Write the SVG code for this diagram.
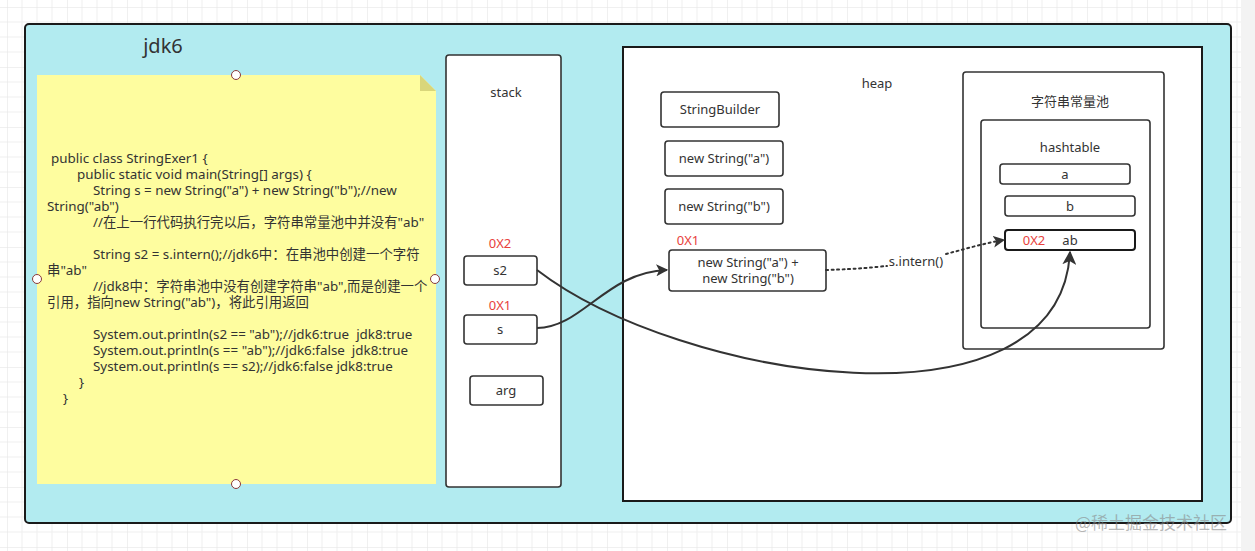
<svg xmlns="http://www.w3.org/2000/svg" width="1255" height="551" viewBox="0 0 1255 551">
<defs>
<pattern id="grid" x="7" y="7" width="60" height="60" patternUnits="userSpaceOnUse">
<path d="M15 0V60M30 0V60M45 0V60M0 15H60M0 30H60M0 45H60" stroke="#efefef" stroke-width="1" fill="none"/>
<path d="M0 0V60M0 0H60" stroke="#e2e2e2" stroke-width="1" fill="none"/>
</pattern>
<marker id="arr" viewBox="0 0 10 10" refX="9" refY="5" markerWidth="12" markerHeight="12" markerUnits="userSpaceOnUse" orient="auto">
<path d="M0 0L10 5L0 10L2.5 5Z" fill="#333"/>
</marker>
<marker id="arr2" viewBox="0 0 10 10" refX="9" refY="5" markerWidth="14" markerHeight="14" markerUnits="userSpaceOnUse" orient="auto">
<path d="M0 0L10 5L0 10L2.5 5Z" fill="#333"/>
</marker>
</defs>
<style>
.t{font-family:"Noto Sans","Noto Sans CJK SC",sans-serif;fill:#333;font-size:13px}
.c{text-anchor:middle}
.red{fill:#e8413c;font-size:13px}
.box{fill:#fff;stroke:#333;stroke-width:1.6}
.code{font-family:"Noto Sans","Noto Sans CJK SC",sans-serif;fill:#333;font-size:13.4px;white-space:pre}
.h{fill:#fff;stroke:#8a3a3a;stroke-width:1}
.edge{fill:none;stroke:#333;stroke-width:2}
</style>
<rect width="1255" height="551" fill="#fff"/>
<rect width="1255" height="551" fill="url(#grid)"/>
<rect x="1241" y="0" width="14" height="551" fill="#f3f3f3"/>

<g id="jdk6">
<rect x="25" y="24" width="1206" height="499" rx="4" fill="#b2ebf0" stroke="#1a1a1a" stroke-width="2"/>
<text class="t c" x="163" y="53" style="font-size:20px">jdk6</text>
</g>

<g id="note">
<path d="M37 75H420L436 91V484H37Z" fill="#fefd9f"/>
<path d="M420 75L436 91H420Z" fill="#d9d67a"/>
<text class="code" x="51" y="163">public class StringExer1 {</text>
<text class="code" x="77" y="179">public static void main(String[] args) {</text>
<text class="code" x="93" y="195">String s = new String("a") + new String("b");//new</text>
<text class="code" x="47" y="211">String("ab")</text>
<text class="code" x="93" y="227">//在上一行代码执行完以后，字符串常量池中并没有"ab"</text>
<text class="code" x="93" y="259">String s2 = s.intern();//jdk6中：在串池中创建一个字符</text>
<text class="code" x="47" y="275">串"ab"</text>
<text class="code" x="93" y="291">//jdk8中：字符串池中没有创建字符串"ab",而是创建一个</text>
<text class="code" x="47" y="307">引用，指向new String("ab")，将此引用返回</text>
<text class="code" x="93" y="339">System.out.println(s2 == "ab");//jdk6:true  jdk8:true</text>
<text class="code" x="93" y="355">System.out.println(s == "ab");//jdk6:false  jdk8:true</text>
<text class="code" x="93" y="371">System.out.println(s == s2);//jdk6:false jdk8:true</text>
<text class="code" x="79" y="387">}</text>
<text class="code" x="63" y="403">}</text>
<circle class="h" cx="236" cy="75" r="4.5"/>
<circle class="h" cx="236" cy="484" r="4.5"/>
<circle class="h" cx="37" cy="279" r="4.5"/>
<circle class="h" cx="435" cy="279" r="4.5"/>
</g>

<g id="stack">
<rect class="box" x="446" y="55" width="115" height="432" rx="3"/>
<text class="t c" x="506" y="97">stack</text>
</g>
<g id="s2">
<text class="t c red" x="500" y="248">0X2</text>
<rect class="box" x="464" y="256" width="73" height="29" rx="3"/>
<text class="t c" x="500" y="275">s2</text>
</g>
<g id="s">
<text class="t c red" x="500" y="310">0X1</text>
<rect class="box" x="464" y="315" width="73" height="29" rx="3"/>
<text class="t c" x="500" y="334">s</text>
</g>
<g id="arg">
<rect class="box" x="470" y="376" width="73" height="29" rx="3"/>
<text class="t c" x="506" y="395">arg</text>
</g>

<g id="heap">
<rect x="623" y="47" width="579" height="454" fill="#fff" stroke="#1a1a1a" stroke-width="2"/>
<text class="t c" x="877" y="88">heap</text>
</g>
<g id="sb">
<rect class="box" x="661" y="92" width="118" height="35" rx="3"/>
<text class="t c" x="720" y="114">StringBuilder</text>
</g>
<g id="nsa">
<rect class="box" x="665" y="141" width="118" height="35" rx="3"/>
<text class="t c" x="724" y="163">new String("a")</text>
</g>
<g id="nsb">
<rect class="box" x="665" y="189" width="118" height="35" rx="3"/>
<text class="t c" x="724" y="211">new String("b")</text>
</g>
<g id="nsab">
<text class="t c red" x="688" y="245">0X1</text>
<rect class="box" x="669" y="250" width="157" height="41" rx="3"/>
<text class="t c" x="748" y="267">new String("a") +</text>
<text class="t c" x="748" y="283">new String("b")</text>
</g>

<g id="pool">
<rect class="box" x="963" y="72" width="201" height="277" rx="3"/>
<text class="t c" x="1070" y="106">字符串常量池</text>
</g>
<g id="hashtable">
<rect class="box" x="981" y="120" width="169" height="208" rx="3"/>
<text class="t c" x="1070" y="152">hashtable</text>
</g>
<g id="a">
<rect class="box" x="1000" y="164" width="130" height="20" rx="3"/>
<text class="t c" x="1065" y="179">a</text>
</g>
<g id="b">
<rect class="box" x="1005" y="196" width="130" height="20" rx="3"/>
<text class="t c" x="1070" y="211">b</text>
</g>
<g id="ab">
<rect x="1005" y="230" width="130" height="20" rx="3" fill="#fff" stroke="#1a1a1a" stroke-width="2"/>
<text class="t c red" x="1034" y="245">0X2</text>
<text class="t c" x="1070" y="245">ab</text>
</g>

<g id="connectors">
<path class="edge" d="M537 328C582 328 606 272 667 270" marker-end="url(#arr)"/>
<path class="edge" d="M537 270C680 380 1060 440 1070 252" marker-end="url(#arr2)"/>
<path class="edge" d="M826 270C860 269 876 267 887 266" stroke-dasharray="2 3.5" stroke-linecap="round"/>
<path class="edge" d="M946 254C965 249 985 243 1004 240" stroke-dasharray="2 3.5" stroke-linecap="round" marker-end="url(#arr)"/>
<text class="t c" x="916" y="266">s.intern()</text>
</g>

<text x="1075" y="529" style="font-family:'Noto Sans CJK SC',sans-serif;font-size:17px;fill:#888;fill-opacity:0.6">@稀土掘金技术社区</text>
</svg>
